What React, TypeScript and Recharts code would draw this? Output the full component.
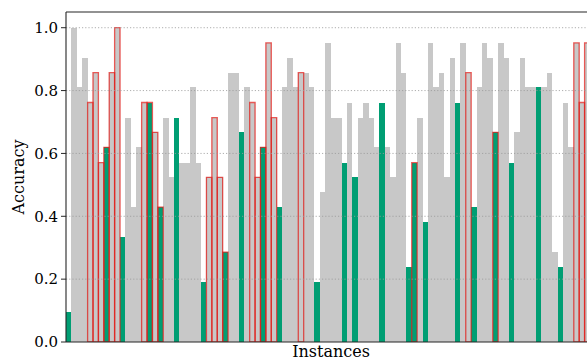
import React from "react";
import { BarChart, Bar, Cell, XAxis, YAxis, ReferenceLine } from "recharts";

// accuracy per instance (left to right, as far as the figure shows)
const instanceAccuracy = [
  0.095, 1.0, 0.81, 0.905, 0.762, 0.857, 0.571, 0.619, 0.857, 1.0,
  0.333, 0.714, 0.429, 0.619, 0.762, 0.762, 0.667, 0.429, 0.714, 0.524,
  0.714, 0.571, 0.571, 0.81, 0.571, 0.19, 0.524, 0.714, 0.524, 0.286,
  0.857, 0.857, 0.667, 0.81, 0.762, 0.524, 0.619, 0.952, 0.714, 0.429,
  0.81, 0.905, 0.81, 0.857, 0.857, 0.81, 0.19, 0.476, 0.952, 0.714,
  0.714, 0.571, 0.762, 0.524, 0.714, 0.762, 0.714, 0.619, 0.762, 0.619,
  0.524, 0.952, 0.857, 0.238, 0.571, 0.714, 0.381, 0.952, 0.81, 0.857,
  0.524, 0.905, 0.762, 0.952, 0.857, 0.429, 0.81, 0.952, 0.905, 0.667,
  0.952, 0.905, 0.571, 0.667, 0.905, 0.81, 0.81, 0.81, 0.81, 0.857,
  0.286, 0.238, 0.762, 0.619, 0.952, 0.762, 0.952,
];

// instances drawn in green
const greenInstances = [0, 7, 10, 15, 17, 20, 25, 29, 32, 36, 39, 46, 51, 53, 58, 63, 64, 66, 72, 75, 79, 82, 87, 91];
// instances outlined in red
const redInstances = [4, 5, 6, 7, 8, 9, 14, 15, 16, 17, 26, 27, 28, 29, 34, 35, 36, 37, 38, 43, 64, 74, 79, 94, 95, 96];

const yTicks = [0, 0.2, 0.4, 0.6, 0.8, 1.0];

const GRAY = "#c8c8c8";
const GREEN = "#009e73";
const RED = "#e0201c";
const AXIS = "#262626";
const FONT = "DejaVu Serif";

const data = instanceAccuracy.map((acc, i) => ({
  instance: i,
  acc,
  green: greenInstances.includes(i),
  red: redInstances.includes(i) ? acc : null,
}));

function YLabel(props: any) {
  const { x, y, height } = props.viewBox;
  const cx = x + 18;
  const cy = y + height / 2;
  return (
    <text x={cx} y={cy} transform={`rotate(-90 ${cx} ${cy})`} textAnchor="middle" dominantBaseline="central"
      fontFamily={FONT} fontSize={16} fill="#000">
      Accuracy
    </text>
  );
}

function XLabel(props: any) {
  const { x, y, width } = props.viewBox;
  return (
    <text x={x + width / 2 + 3} y={y + 15} textAnchor="middle" fontFamily={FONT} fontSize={16} fill="#000">
      Instances
    </text>
  );
}

export default function App() {
  return (
    <div style={{ position: "absolute", left: 0, top: 0, width: 587, height: 360, overflow: "hidden", background: "#fff" }}>
      <BarChart width={600} height={360} data={data} margin={{ top: 12, right: 10, bottom: 0, left: 0 }}
        barCategoryGap={0} barGap={0}>
        <XAxis dataKey="instance" tick={false} tickLine={false} height={18}
          axisLine={{ stroke: AXIS, strokeWidth: 1.1 }} label={{ content: <XLabel /> }} />
        <XAxis dataKey="instance" xAxisId="overlay" hide />
        <YAxis domain={[0, 1.05]} ticks={yTicks} tickFormatter={(v: number) => v.toFixed(1)} width={66}
          tickSize={5} tickMargin={3} allowDataOverflow
          axisLine={{ stroke: AXIS, strokeWidth: 1.1 }} tickLine={{ stroke: AXIS }}
          tick={{ fontFamily: FONT, fontSize: 15, fill: "#000" }} label={{ content: <YLabel /> }} />
        <Bar dataKey="acc" barSize={5.4} shapeRendering="crispEdges" isAnimationActive={false}>
          {data.map((d) => (
            <Cell key={d.instance} fill={d.green ? GREEN : GRAY} />
          ))}
        </Bar>
        <Bar dataKey="red" xAxisId="overlay" barSize={5.4} fill="none" stroke={RED} strokeWidth={1.3}
          strokeOpacity={0.75} isAnimationActive={false} />
        {yTicks.slice(1).map((t) => (
          <ReferenceLine key={t} y={t} stroke="#9a9a9a" strokeOpacity={0.8} strokeDasharray="1.2 2" />
        ))}
        <ReferenceLine y={1.05} stroke={AXIS} strokeWidth={1.1} />
      </BarChart>
    </div>
  );
}
